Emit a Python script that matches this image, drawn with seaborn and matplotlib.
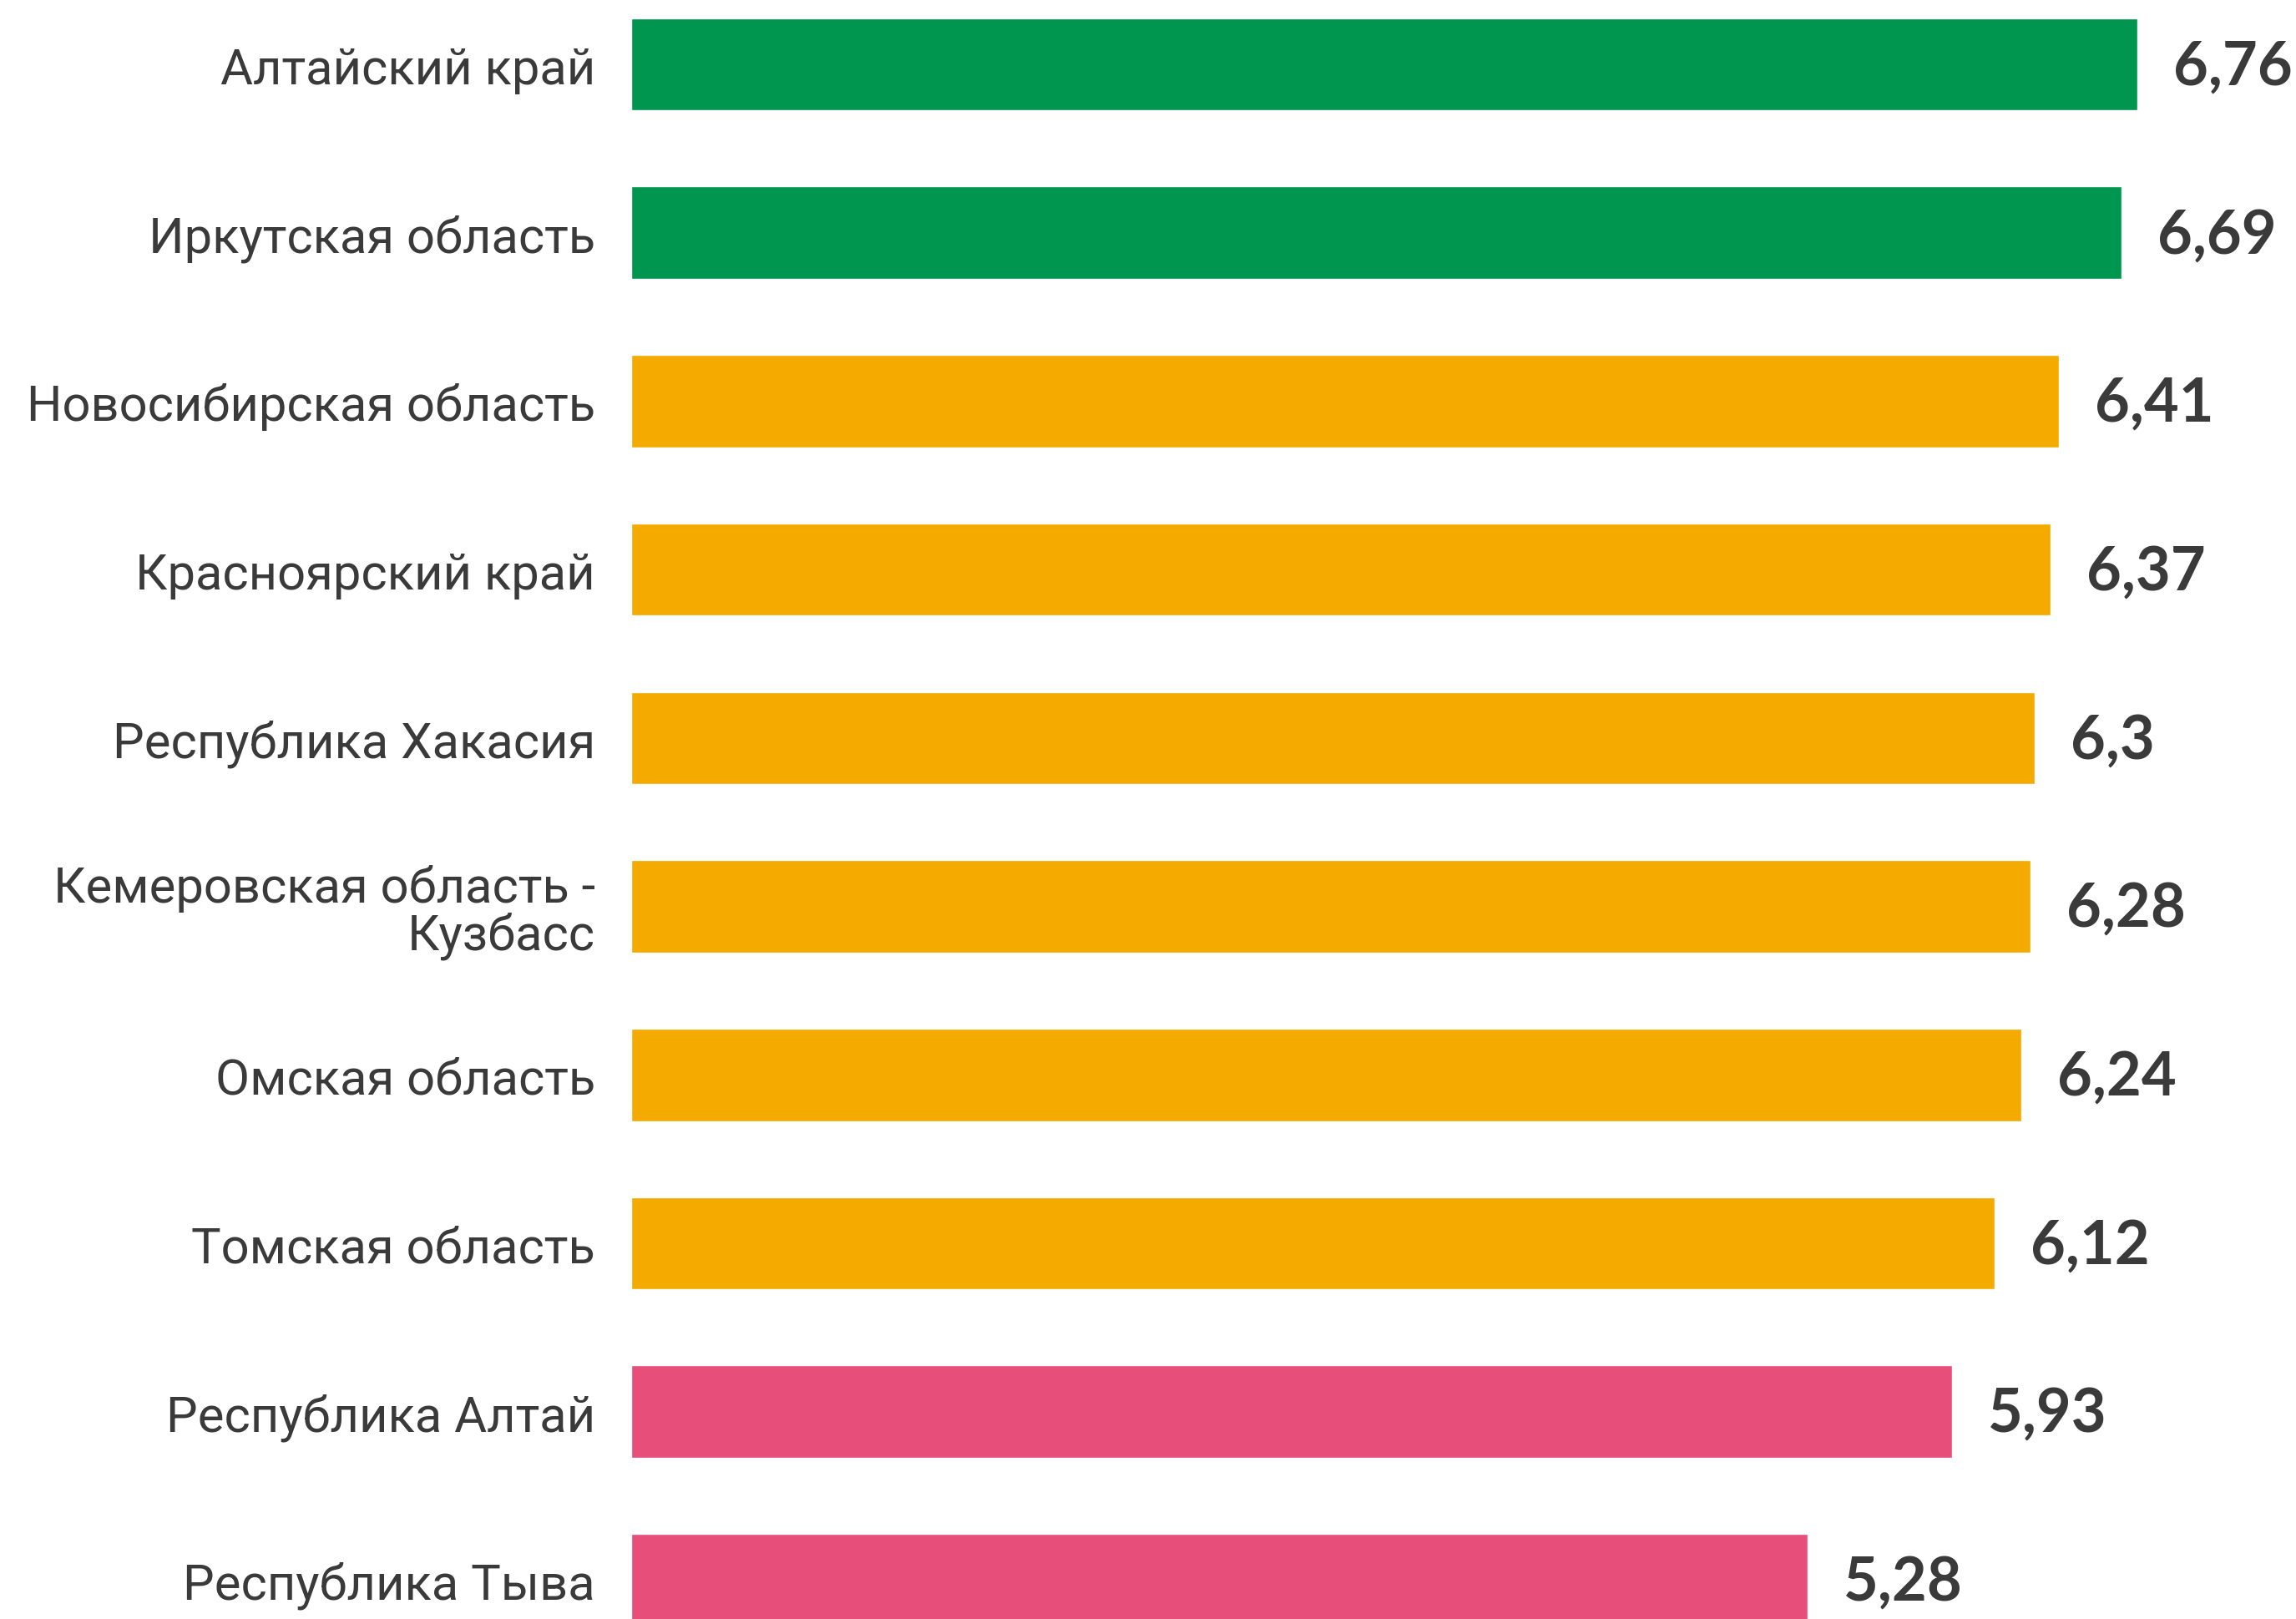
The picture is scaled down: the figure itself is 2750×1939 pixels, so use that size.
import matplotlib
matplotlib.use("Agg")
import matplotlib.pyplot as plt
import seaborn as sns
import pandas as pd

regions = [
    "Алтайский край",
    "Иркутская область",
    "Новосибирская область",
    "Красноярский край",
    "Республика Хакасия",
    "Кемеровская область -\nКузбасс",
    "Омская область",
    "Томская область",
    "Республика Алтай",
    "Республика Тыва",
]
values = [6.76, 6.69, 6.41, 6.37, 6.30, 6.28, 6.24, 6.12, 5.93, 5.28]
value_labels = ["6,76", "6,69", "6,41", "6,37", "6,3", "6,28", "6,24", "6,12", "5,93", "5,28"]
groups = ["high", "high", "mid", "mid", "mid", "mid", "mid", "mid", "low", "low"]
group_colors = {"high": "#009650", "mid": "#F5AA00", "low": "#E84E7A"}

df = pd.DataFrame({"region": regions, "value": values, "group": groups})

sns.set_theme(style="white")
plt.rcParams["font.family"] = ["Roboto", "DejaVu Sans"]

W, H, DPI = 2750, 1940, 100
fig = plt.figure(figsize=(W / DPI, H / DPI), dpi=DPI)
left_px = 756
ax = fig.add_axes([left_px / W, 0, 1 - left_px / W, 1])

sns.barplot(data=df, x="value", y="region", hue="group", palette=group_colors,
            dodge=False, legend=False, width=0.548, saturation=1, ax=ax)

ax.set_xlim(0, (W - left_px) / 266.8)
ax.set_ylim(9.231, -0.387)
ax.set_xlabel("")
ax.set_ylabel("")
ax.set_xticks([])
for s in ax.spines.values():
    s.set_visible(False)
ax.tick_params(axis="y", length=0, pad=31, labelsize=43, labelcolor="#3a3a3a")
for t in ax.get_yticklabels():
    t.set_horizontalalignment("right")
    t.set_multialignment("right")
    t.set_linespacing(1.0)

for i, (v, lab) in enumerate(zip(values, value_labels)):
    ax.annotate(lab, xy=(v, i), xytext=(31, -2), textcoords="offset points",
                ha="left", va="center", fontsize=52, fontweight="bold",
                color="#3a3a3a", family=["Lato", "DejaVu Sans"])

fig.savefig("out.png", dpi=DPI)
